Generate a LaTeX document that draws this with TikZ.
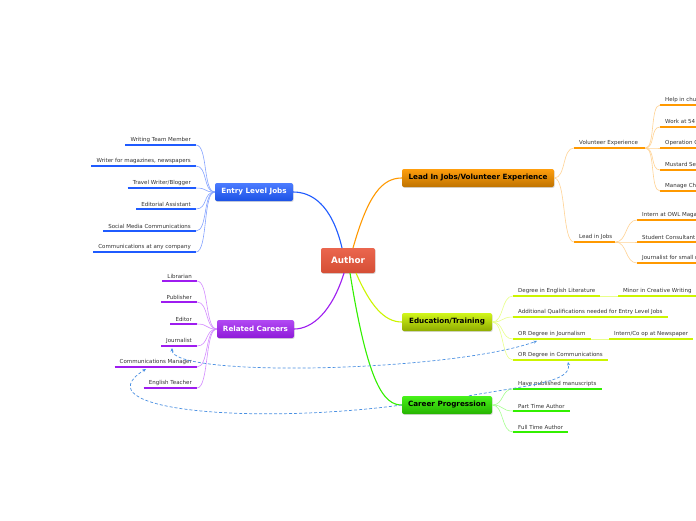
\documentclass[tikz,border=0pt]{standalone}
\usepackage{fontspec}
\setmainfont{DejaVu Sans}
\usetikzlibrary{shadows,arrows.meta}
\definecolor{authorc}{HTML}{E8553A}
\definecolor{bluem}{HTML}{1F5BFF}
\definecolor{bluel}{HTML}{86A4FF}
\definecolor{purm}{HTML}{9E1CF0}
\definecolor{purl}{HTML}{D48CFF}
\definecolor{orgm}{HTML}{FF9900}
\definecolor{orgl}{HTML}{FFD394}
\definecolor{ylm}{HTML}{CCF500}
\definecolor{yll}{HTML}{E9FF8A}
\definecolor{grm}{HTML}{33F000}
\definecolor{grl}{HTML}{A6FF8F}
\definecolor{dashc}{HTML}{4A90E2}
\definecolor{txt}{HTML}{333333}
\tikzset{
  mainbox/.style={rounded corners=2pt, draw=none, inner sep=0pt, minimum height=18pt,
    font=\fontsize{7.2}{8}\selectfont\bfseries,
    drop shadow={shadow xshift=0.7pt, shadow yshift=-0.9pt, opacity=0.3}},
  leaf/.style={inner xsep=5pt, inner ysep=2.2pt, font=\fontsize{5.5}{6.5}\selectfont, text=txt},
  uline/.style={line width=2.4pt},
  mainlink/.style={line width=1.1pt},
  sublink/.style={line width=0.6pt},
  rel/.style={dashc, line width=0.7pt, dash pattern=on 3pt off 2pt,
    {Stealth[length=3.5pt,width=3pt]}-{Stealth[length=3.5pt,width=3pt]}},
  relend/.style={dashc, line width=0.7pt, dash pattern=on 3pt off 2pt,
    -{Stealth[length=3.5pt,width=3pt]}},
}
\begin{document}
\begin{tikzpicture}[x=1pt,y=-1pt]
\useasboundingbox (0,0) rectangle (696,520);
\clip (0,0) rectangle (696,520);
\fill[white] (0,0) rectangle (696,520);

% ---------- anchor points on the central box
\coordinate (a1) at (342,248);
\coordinate (a2) at (353,248);
\coordinate (a3) at (344,273);
\coordinate (a4) at (356,273);
\coordinate (a5) at (350,273);

% ---------- main boxes
\node[mainbox, minimum width=54pt, minimum height=25pt, top color=authorc!90!white, bottom color=authorc!92!black, text=white, font=\fontsize{8.8}{10}\selectfont\bfseries] (author) at (348,260.5) {Author};
\node[mainbox, minimum width=78pt, top color=bluem!80!white, bottom color=bluem!90!black, text=white] (elj) at (254,192) {Entry Level Jobs};
\node[mainbox, minimum width=77pt, top color=purm!80!white, bottom color=purm!90!black, text=white] (rc) at (255.5,329) {Related Careers};
\node[mainbox, minimum width=152pt, top color=orgm!95!white, bottom color=orgm!75!black, text=black] (lij) at (478,178) {Lead In Jobs/Volunteer Experience};
\node[mainbox, minimum width=90pt, top color=ylm!90!white, bottom color=ylm!70!black, text=black] (et) at (447,322) {Education/Training};
\node[mainbox, minimum width=90pt, top color=grm!90!white, bottom color=grm!75!black, text=black] (cp) at (447,405) {Career Progression};

\draw[mainlink, bluem] (a1) .. controls (332,205) and (312,192) .. (elj.east);
\draw[mainlink, orgm] (a2) .. controls (368,195) and (382,178) .. (lij.west);
\draw[mainlink, purm] (a3) .. controls (332,312) and (312,329) .. (rc.east);
\draw[mainlink, ylm] (a4) .. controls (370,305) and (384,322) .. (et.west);
\draw[mainlink, grm] (a5) .. controls (368,385) and (384,405) .. (cp.west);

% ---------- Entry Level Jobs leaves
\foreach \n/\y/\t in {e1/145/{Writing Team Member}, e2/166/{Writer for magazines, newspapers}, e3/188/{Travel Writer/Blogger}, e4/209/{Editorial Assistant}, e5/231/{Social Media Communications}, e6/252/{Communications at any company}}{
  \node[leaf, anchor=south east] (\n) at (196,\y) {\t};
  \draw[uline, bluem] (\n.south west) -- (\n.south east);
  \draw[sublink, bluel] (elj.west) .. controls +(-12,0) and +(12,0) .. (\n.south east);
}

% ---------- Related Careers leaves
\foreach \n/\y/\t in {r1/281/{Librarian}, r2/302/{Publisher}, r3/324/{Editor}, r4/346/{Journalist}, r5/367/{Communications Manager}, r6/388/{English Teacher}}{
  \node[leaf, anchor=south east] (\n) at (197,\y) {\t};
  \draw[uline, purm] (\n.south west) -- (\n.south east);
  \draw[sublink, purl] (rc.west) .. controls +(-12,0) and +(12,0) .. (\n.south east);
}

% ---------- Lead in jobs / volunteer
\node[leaf, anchor=south west] (ve) at (574,148) {\makebox[61pt][l]{Volunteer Experience}};
\node[leaf, anchor=south west] (lj) at (574,242) {\makebox[31pt][l]{Lead in Jobs}};
\draw[uline, orgm] (ve.south west) -- (ve.south east);
\draw[uline, orgm] (lj.south west) -- (lj.south east);
\draw[sublink, orgl] (lij.east) .. controls +(12,0) and +(-12,0) .. (ve.south west);
\draw[sublink, orgl] (lij.east) .. controls +(12,0) and +(-12,0) .. (lj.south west);
\foreach \n/\y/\t in {v1/105/{Help in church nursery}, v2/127/{Work at 54 Camp}, v3/148/{Operation Christmas Child}, v4/170/{Mustard Seed Program}, v5/191/{Manage Church Library}}{
  \node[leaf, anchor=south west] (\n) at (660,\y) {\t};
  \draw[uline, orgm] (\n.south west) -- (\n.south east);
  \draw[sublink, orgl] (ve.south east) .. controls +(10,0) and +(-10,0) .. (\n.south west);
}
\foreach \n/\y/\t in {l1/220/{Intern at OWL Magazine}, l2/242/{Student Consultant at School}, l3/263/{Journalist for small newspaper}}{
  \node[leaf, anchor=south west] (\n) at (637,\y) {\t};
  \draw[uline, orgm] (\n.south west) -- (\n.south east);
  \draw[sublink, orgl] (lj.south east) .. controls +(12,0) and +(-12,0) .. (\n.south west);
}

% ---------- Education / Training
\foreach \n/\y/\t in {d1/296/{Degree in English Literature}, d2/317/{Additional Qualifications needed for Entry Level Jobs}, d3/339/{OR Degree in Journalism}, d4/360/{OR Degree in Communications}}{
  \node[leaf, anchor=south west] (\n) at (513,\y) {\t};
  \draw[uline, ylm] (\n.south west) -- (\n.south east);
  \draw[sublink, yll] (et.east) .. controls +(12,0) and +(-12,0) .. (\n.south west);
}
\node[leaf, anchor=south west] (d1a) at (618,296) {Minor in Creative Writing};
\draw[uline, ylm] (d1a.south west) -- (d1a.south east);
\draw[sublink, yll] (d1.south east) -- (d1a.south west);
\node[leaf, anchor=south west] (d3a) at (609,339) {Intern/Co op at Newspaper};
\draw[uline, ylm] (d3a.south west) -- (d3a.south east);
\draw[sublink, yll] (d3.south east) -- (d3a.south west);

% ---------- Career Progression
\foreach \n/\y/\t in {c1/389/{Have published manuscripts}, c2/411/{Part Time Author}, c3/432/{Full Time Author}}{
  \node[leaf, anchor=south west] (\n) at (513,\y) {\t};
  \draw[uline, grm] (\n.south west) -- (\n.south east);
  \draw[sublink, grl] (cp.east) .. controls +(12,0) and +(-12,0) .. (\n.south west);
}

% ---------- dashed relations
\coordinate (jr) at (172,348);
\coordinate (dj) at (537,341);
\coordinate (cm) at (146,369);
\coordinate (dc) at (568,362);
\draw[rel] (jr) .. controls (172,378) and (450,372) .. (dj);
\draw[relend] (cp.west) .. controls (250,425) and (80,410) .. (cm);
\draw[relend] ([xshift=22pt]cp.north) .. controls (530,385) and (572,382) .. (dc);
\end{tikzpicture}
\end{document}
